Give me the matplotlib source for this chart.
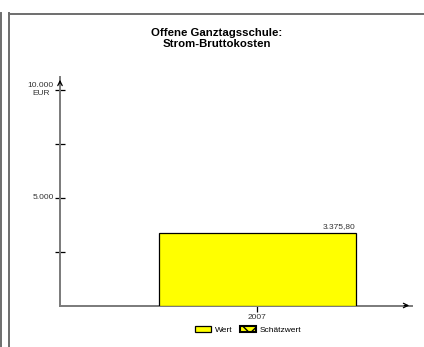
import matplotlib
matplotlib.use('Agg')
import matplotlib.pyplot as plt
from matplotlib.lines import Line2D
from matplotlib.patches import Patch

plt.rcParams['font.family'] = ['Liberation Sans', 'DejaVu Sans']

# data
years = ['2007']
values = [3375.80]
y_ticks = [2500, 5000, 7500, 10000]
y_labels = ['', '5.000', '', '10.000\nEUR']

W, H = 424, 347
fig = plt.figure(figsize=(W / 100, H / 100), dpi=100)

# outer frame lines (pixel coords -> figure coords)
def px(x, y):
    return x / W, 1 - y / H

frame_col = '#6e6e6e'
for (x0, y0), (x1, y1) in [((0.8, 13), (0.8, 347)),
                           ((8.5, 13), (8.5, 347)),
                           ((8.5, 13.5), (424, 13.5))]:
    a, b = px(x0, y0)
    c, d = px(x1, y1)
    fig.add_artist(Line2D([a, c], [b, d], color=frame_col, lw=1.4))

fig.text(0.512, 1 - 38.5 / H, 'Offene Ganztagsschule:\nStrom-Bruttokosten',
         ha='center', va='center', fontsize=8.2, fontweight='bold',
         linespacing=1.1)

left, right = 60 / W, 412 / W
bottom, top = 1 - 305.5 / H, 1 - 77 / H
ax = fig.add_axes([left, bottom, right - left, top - bottom])

xpos = list(range(len(years)))
bars = ax.bar(xpos, values, width=1.0, color='#ffff00', edgecolor='black',
              linewidth=0.9, zorder=3)
for b, v in zip(bars, values):
    txt = f'{v:,.2f}'.replace(',', 'X').replace('.', ',').replace('X', '.')
    ax.text(b.get_x() + b.get_width(), v + 100, txt, ha='right', va='bottom',
            fontsize=6, color='#333333')

ax.set_xlim(-1.0, 0.785)
ax.set_ylim(0, 10580)

for s in ['top', 'right']:
    ax.spines[s].set_visible(False)
for s in ['left', 'bottom']:
    ax.spines[s].set_color('#7a7a7a')
    ax.spines[s].set_linewidth(1.4)

# arrow heads
ax.annotate('', xy=(1.0, 0), xytext=(0.97, 0), xycoords='axes fraction',
            arrowprops=dict(arrowstyle='->', color='black', lw=0.9,
                            mutation_scale=8))
ax.annotate('', xy=(0, 1.0), xytext=(0, 0.96), xycoords='axes fraction',
            arrowprops=dict(arrowstyle='->', color='black', lw=0.9,
                            mutation_scale=8))

ax.set_yticks(y_ticks)
ax.set_yticklabels(y_labels, fontsize=6, color='#333333',
                   multialignment='center')
ax.tick_params(axis='y', direction='inout', length=7, width=0.9,
               color='black', pad=1)
ax.set_xticks(xpos)
ax.set_xticklabels(years, fontsize=6, color='#333333')
ax.tick_params(axis='x', direction='out', length=4, width=0.9,
               color='black', pad=2)
for lab in ax.get_yticklabels():
    lab.set_va('center')

handles = [Patch(facecolor='#ffff00', edgecolor='black', lw=0.9),
           Patch(facecolor='#ffff00', edgecolor='black', lw=1.5, hatch='xx')]
fig.legend(handles, ['Wert', 'Schätzwert'], loc='center',
           bbox_to_anchor=(0.585, 1 - 330 / H), ncol=2, frameon=False,
           fontsize=6, handlelength=2.0, handleheight=0.8, handletextpad=0.4,
           columnspacing=0.9)

fig.savefig('out.png', dpi=100)
